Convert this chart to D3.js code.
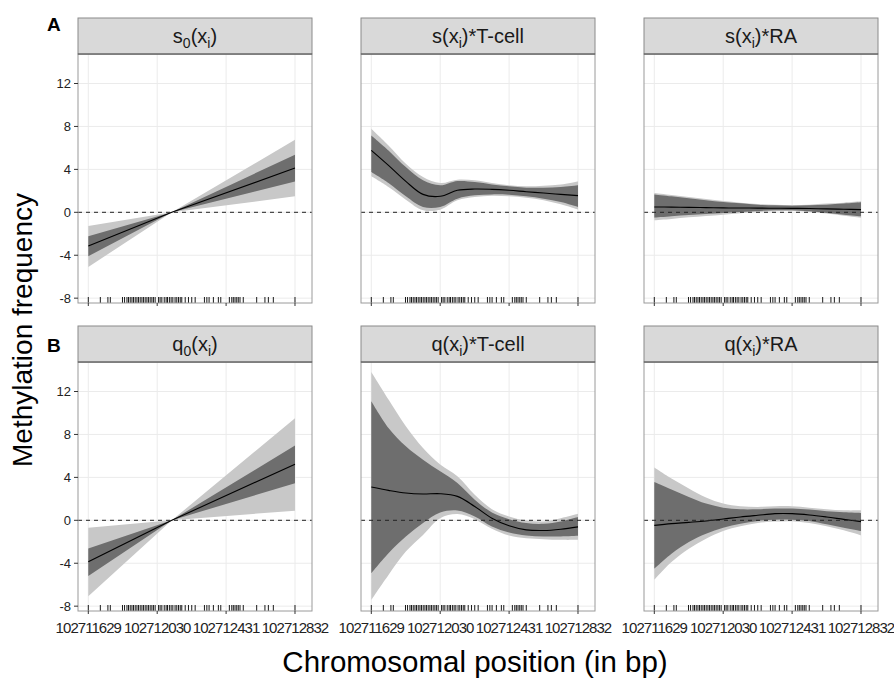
<!DOCTYPE html>
<html>
<head>
<meta charset="utf-8">
<script src="https://cdn.jsdelivr.net/npm/d3@7"></script>
<style>
  html, body { margin: 0; padding: 0; background: #ffffff; }
  svg { display: block; font-family: "Liberation Sans", Arial, Helvetica, sans-serif; }
</style>
</head>
<body>
<svg id="chart" width="894" height="678"></svg>
<script>
// ---------------- DATA ----------------
const xTicks = [102711629, 102712030, 102712431, 102712832];
const yTicks = [-8, -4, 0, 4, 8, 12];
const rowLabels = ["A", "B"];
const panelTitles = ["s_0(x_i)", "s(x_i)*T-cell", "s(x_i)*RA", "q_0(x_i)", "q(x_i)*T-cell", "q(x_i)*RA"];
const xAxisTitle = "Chromosomal position (in bp)";
const yAxisTitle = "Methylation frequency";

// positions for linear effects (ends and pivot)
const linPos = [102711629, 102712115, 102712832];
// positions for smooth effects
const smoothPos = [102711629, 102711729, 102711830, 102711930, 102712030, 102712130, 102712231,
                   102712331, 102712431, 102712531, 102712632, 102712732, 102712832];

// s0(xi)
const s0Fit  = [-3.13, 0, 4.12];
const s0Lo50 = [-4.09, 0, 2.88];
const s0Hi50 = [-2.23, 0, 5.37];
const s0Lo95 = [-5.09, 0, 1.49];
const s0Hi95 = [-1.27, 0, 6.76];

// s(xi)*T-cell
const sTFit  = [5.77, 4.37, 2.88, 1.67, 1.49, 2.05, 2.17, 2.14, 2.05, 1.92, 1.80, 1.67, 1.55];
const sTLo50 = [3.75, 2.73, 1.49, 0.50, 0.50, 1.27, 1.58, 1.67, 1.64, 1.49, 1.27, 0.96, 0.50];
const sTHi50 = [7.16, 5.77, 4.22, 2.98, 2.51, 2.91, 2.82, 2.60, 2.42, 2.29, 2.29, 2.36, 2.51];
const sTLo95 = [3.35, 2.36, 1.18, 0.19, 0.25, 1.12, 1.43, 1.55, 1.49, 1.36, 1.12, 0.74, 0.25];
const sTHi95 = [7.78, 6.23, 4.53, 3.29, 2.73, 3.04, 2.98, 2.73, 2.51, 2.42, 2.48, 2.60, 2.88];

// s(xi)*RA
const sRFit  = [0.50, 0.48, 0.46, 0.44, 0.41, 0.40, 0.39, 0.38, 0.37, 0.35, 0.32, 0.29, 0.25];
const sRLo50 = [-0.50, -0.37, -0.25, -0.16, -0.06, 0.03, 0.12, 0.19, 0.19, 0.09, -0.06, -0.22, -0.37];
const sRHi50 = [1.67, 1.49, 1.30, 1.12, 0.96, 0.84, 0.71, 0.65, 0.62, 0.65, 0.71, 0.81, 0.93];
const sRLo95 = [-0.74, -0.62, -0.47, -0.34, -0.22, -0.09, 0.03, 0.09, 0.12, 0.03, -0.12, -0.31, -0.50];
const sRHi95 = [1.80, 1.61, 1.43, 1.24, 1.05, 0.90, 0.78, 0.71, 0.68, 0.71, 0.81, 0.90, 1.02];

// q0(xi)
const q0Fit  = [-3.87, 0, 5.23];
const q0Lo50 = [-5.20, 0, 3.46];
const q0Hi50 = [-2.62, 0, 6.97];
const q0Lo95 = [-7.07, 0, 0.90];
const q0Hi95 = [-0.69, 0, 9.51];

// q(xi)*T-cell
const qTFit  = [3.10, 2.79, 2.54, 2.45, 2.48, 2.23, 1.29, 0.20, -0.51, -0.89, -0.95, -0.83, -0.61];
const qTLo50 = [-4.94, -3.07, -1.51, -0.26, 0.73, 0.92, 0.36, -0.58, -1.14, -1.42, -1.51, -1.51, -1.45];
const qTHi50 = [11.10, 8.61, 6.90, 5.65, 4.56, 3.47, 1.92, 0.73, 0.11, -0.26, -0.33, -0.11, 0.30];
const qTLo95 = [-7.43, -5.09, -2.91, -1.36, 0.20, 0.58, 0.11, -0.79, -1.42, -1.67, -1.76, -1.82, -1.82];
const qTHi95 = [13.82, 11.26, 8.77, 6.74, 5.19, 4.10, 2.38, 1.04, 0.36, -0.02, -0.11, 0.20, 0.61];

// q(xi)*RA
const qRFit  = [-0.47, -0.31, -0.19, -0.06, 0.12, 0.31, 0.47, 0.62, 0.62, 0.50, 0.31, 0.09, -0.12];
const qRLo50 = [-4.52, -3.12, -2.02, -1.25, -0.69, -0.31, -0.06, 0.06, 0.06, -0.06, -0.37, -0.69, -1.00];
const qRHi50 = [3.58, 2.87, 2.18, 1.56, 1.18, 1.03, 1.03, 1.09, 1.09, 1.00, 0.84, 0.75, 0.69];
const qRLo95 = [-5.55, -3.89, -2.65, -1.71, -1.00, -0.56, -0.25, -0.12, -0.09, -0.25, -0.56, -0.93, -1.40];
const qRHi95 = [4.92, 3.89, 2.96, 2.12, 1.56, 1.31, 1.25, 1.31, 1.31, 1.18, 1.03, 0.93, 0.93];

// CpG positions (rug)
const rugPos = [102711629, 102711699, 102711743, 102711757, 102711828, 102711840, 102711854, 102711863,
  102711873, 102711883, 102711892, 102711902, 102711912, 102711921, 102711931, 102711941, 102711950,
  102711960, 102711970, 102711979, 102711989, 102711999, 102712008, 102712018, 102712038, 102712047,
  102712057, 102712071, 102712082, 102712090, 102712101, 102712111, 102712121, 102712134, 102712144,
  102712154, 102712164, 102712173, 102712193, 102712212, 102712231, 102712251, 102712305, 102712319,
  102712332, 102712357, 102712386, 102712400, 102712450, 102712464, 102712473, 102712483, 102712493,
  102712502, 102712512, 102712531, 102712609, 102712657, 102712677, 102712706, 102712832];

// ---------------- LAYOUT ----------------
const colLeft = [78, 361, 644];
const panelW = 234;
const rowTop = [18, 326];
const stripH = 36;
const panelH = 249;
const xDomain = [102711569, 102712931];
const yDomain = [-8.45, 14.75];

const smooth = d3.curveCatmullRom.alpha(0.5);
const panels = [
  { x: linPos, fit: s0Fit, lo50: s0Lo50, hi50: s0Hi50, lo95: s0Lo95, hi95: s0Hi95, curve: d3.curveLinear },
  { x: smoothPos, fit: sTFit, lo50: sTLo50, hi50: sTHi50, lo95: sTLo95, hi95: sTHi95, curve: smooth },
  { x: smoothPos, fit: sRFit, lo50: sRLo50, hi50: sRHi50, lo95: sRLo95, hi95: sRHi95, curve: smooth },
  { x: linPos, fit: q0Fit, lo50: q0Lo50, hi50: q0Hi50, lo95: q0Lo95, hi95: q0Hi95, curve: d3.curveLinear },
  { x: smoothPos, fit: qTFit, lo50: qTLo50, hi50: qTHi50, lo95: qTLo95, hi95: qTHi95, curve: smooth },
  { x: smoothPos, fit: qRFit, lo50: qRLo50, hi50: qRHi50, lo95: qRLo95, hi95: qRHi95, curve: smooth }
];

const svg = d3.select("#chart");

function addTitle(sel, str) {
  // "_c" marks a single subscript character
  let i = 0, pendingDy = 0;
  while (i < str.length) {
    if (str[i] === "_") {
      sel.append("tspan").attr("font-size", 14).attr("dy", 5).text(str[i + 1]);
      pendingDy = -5;
      i += 2;
    } else {
      let j = i;
      while (j < str.length && str[j] !== "_") j++;
      const ts = sel.append("tspan").text(str.slice(i, j));
      if (pendingDy) { ts.attr("dy", pendingDy); pendingDy = 0; }
      i = j;
    }
  }
}

panels.forEach((p, idx) => {
  const r = Math.floor(idx / 3), c = idx % 3;
  const left = colLeft[c];
  const top = rowTop[r] + stripH;
  const bottom = top + panelH;
  const x = d3.scaleLinear().domain(xDomain).range([left, left + panelW]);
  const y = d3.scaleLinear().domain(yDomain).range([bottom, top]);
  const g = svg.append("g");

  g.append("rect").attr("x", left).attr("y", top).attr("width", panelW).attr("height", panelH)
    .attr("fill", "#ffffff");

  g.selectAll(".gy").data(yTicks).join("line")
    .attr("x1", left).attr("x2", left + panelW)
    .attr("y1", d => y(d)).attr("y2", d => y(d))
    .attr("stroke", "#ebebeb").attr("stroke-width", 1);
  g.selectAll(".gx").data(xTicks).join("line")
    .attr("x1", d => x(d)).attr("x2", d => x(d))
    .attr("y1", top).attr("y2", bottom)
    .attr("stroke", "#ebebeb").attr("stroke-width", 1);

  const pts = p.x.map((xv, k) => ({ x: xv, fit: p.fit[k], lo50: p.lo50[k], hi50: p.hi50[k], lo95: p.lo95[k], hi95: p.hi95[k] }));

  const clipId = "clip" + idx;
  svg.append("clipPath").attr("id", clipId).append("rect")
    .attr("x", left).attr("y", top).attr("width", panelW).attr("height", panelH);
  const gc = g.append("g").attr("clip-path", `url(#${clipId})`);

  gc.append("path").datum(pts)
    .attr("d", d3.area().x(d => x(d.x)).y0(d => y(d.lo95)).y1(d => y(d.hi95)).curve(p.curve))
    .attr("fill", "#c8c8c8");
  gc.append("path").datum(pts)
    .attr("d", d3.area().x(d => x(d.x)).y0(d => y(d.lo50)).y1(d => y(d.hi50)).curve(p.curve))
    .attr("fill", "#6e6e6e");
  gc.append("path").datum(pts)
    .attr("d", d3.line().x(d => x(d.x)).y(d => y(d.fit)).curve(p.curve))
    .attr("fill", "none").attr("stroke", "#000").attr("stroke-width", 1.1);

  g.append("line").attr("x1", left).attr("x2", left + panelW)
    .attr("y1", y(0)).attr("y2", y(0))
    .attr("stroke", "#222").attr("stroke-width", 1).attr("stroke-dasharray", "4,4");

  g.selectAll(".rug").data(rugPos).join("line")
    .attr("x1", d => x(d)).attr("x2", d => x(d))
    .attr("y1", bottom - 6).attr("y2", bottom)
    .attr("stroke", "#000").attr("stroke-width", 0.9);

  g.append("rect").attr("x", left).attr("y", top).attr("width", panelW).attr("height", panelH)
    .attr("fill", "none").attr("stroke", "#9a9a9a").attr("stroke-width", 1);

  g.selectAll(".xt").data(xTicks).join("line")
    .attr("x1", d => x(d)).attr("x2", d => x(d))
    .attr("y1", bottom).attr("y2", bottom + 3)
    .attr("stroke", "#333").attr("stroke-width", 1);

  if (r === 1) {
    g.selectAll(".xl").data(xTicks).join("text")
      .attr("x", d => x(d)).attr("y", bottom + 22)
      .attr("text-anchor", "middle").attr("font-size", 15).attr("letter-spacing", -0.95)
      .attr("fill", "#222")
      .text(d => d3.format("d")(d));
  }
  if (c === 0) {
    g.selectAll(".yt").data(yTicks).join("line")
      .attr("x1", left - 4).attr("x2", left)
      .attr("y1", d => y(d)).attr("y2", d => y(d))
      .attr("stroke", "#333").attr("stroke-width", 1);
    g.selectAll(".yl").data(yTicks).join("text")
      .attr("x", left - 7).attr("y", d => y(d))
      .attr("dy", "0.35em")
      .attr("text-anchor", "end").attr("font-size", 13).attr("fill", "#222")
      .text(d => String(d));
  }

  const sTop = rowTop[r];
  g.append("rect").attr("x", left).attr("y", sTop).attr("width", panelW).attr("height", stripH)
    .attr("fill", "#d9d9d9").attr("stroke", "#8a8a8a").attr("stroke-width", 1);
  g.append("line").attr("x1", left).attr("x2", left + panelW).attr("y1", top).attr("y2", top)
    .attr("stroke", "#555").attr("stroke-width", 1.2);
  const t = g.append("text").attr("x", left + panelW / 2).attr("y", sTop + 25)
    .attr("text-anchor", "middle").attr("font-size", 20).attr("fill", "#1a1a1a");
  addTitle(t, panelTitles[idx]);
});

// row labels
const rowLabelBase = [31, 352];
rowLabels.forEach((lab, r) => {
  svg.append("text").attr("x", 47).attr("y", rowLabelBase[r])
    .attr("font-size", 19).attr("font-weight", "bold").attr("fill", "#000").text(lab);
});

// axis titles
svg.append("text").attr("x", 475).attr("y", 672).attr("text-anchor", "middle")
  .attr("font-size", 29.5).attr("fill", "#000").text(xAxisTitle);
svg.append("text").attr("transform", "translate(32,330) rotate(-90)").attr("text-anchor", "middle")
  .attr("font-size", 28).attr("fill", "#000").text(yAxisTitle);
</script>
</body>
</html>
